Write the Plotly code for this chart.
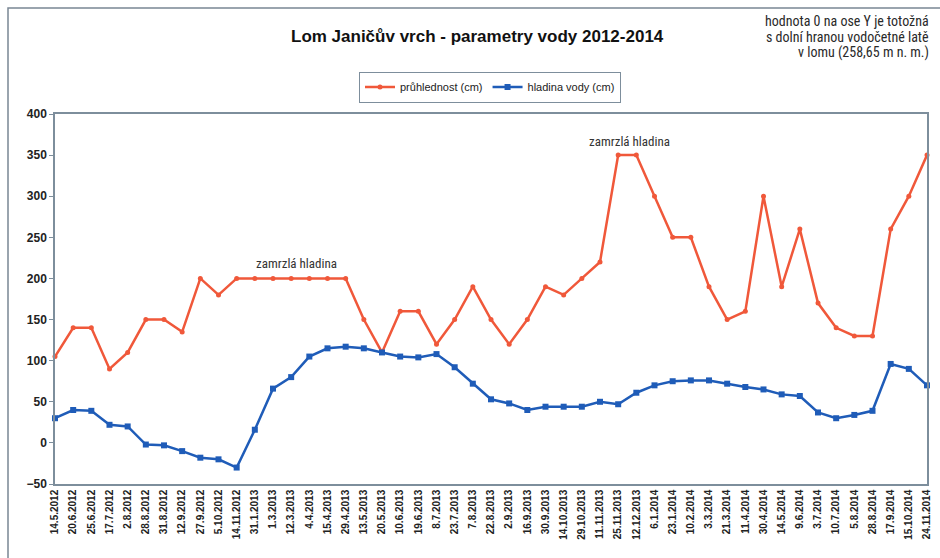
import plotly.graph_objects as go

dates = ["14.5.2012", "20.6.2012", "25.6.2012", "17.7.2012", "2.8.2012", "28.8.2012",
         "31.8.2012", "12.9.2012", "27.9.2012", "5.10.2012", "14.11.2012", "31.1.2013",
         "1.3.2013", "12.3.2013", "4.4.2013", "15.4.2013", "29.4.2013", "13.5.2013",
         "20.5.2013", "10.6.2013", "19.6.2013", "8.7.2013", "23.7.2013", "7.8.2013",
         "22.8.2013", "2.9.2013", "16.9.2013", "30.9.2013", "14.10.2013", "29.10.2013",
         "11.11.2013", "25.11.2013", "12.12.2013", "6.1.2014", "23.1.2014", "10.2.2014",
         "3.3.2014", "21.3.2014", "11.4.2014", "30.4.2014", "14.5.2014", "9.6.2014",
         "3.7.2014", "10.7.2014", "5.8.2014", "28.8.2014", "17.9.2014", "15.10.2014",
         "24.11.2014"]

pruhlednost = [105, 140, 140, 90, 110, 150, 150, 135, 200, 180, 200, 200,
               200, 200, 200, 200, 200, 150, 110, 160, 160, 120, 150, 190,
               150, 120, 150, 190, 180, 200, 220, 350, 350, 300, 250, 250,
               190, 150, 160, 300, 190, 260, 170, 140, 130, 130, 260, 300,
               350]

hladina = [30, 40, 39, 22, 20, -2, -3, -10, -18, -20, -30, 16,
           66, 80, 105, 115, 117, 115, 110, 105, 104, 108, 92, 72,
           53, 48, 40, 44, 44, 44, 50, 47, 61, 70, 75, 76,
           76, 72, 68, 65, 59, 57, 37, 30, 34, 39, 96, 90,
           70]

y_ticks = [-50, 0, 50, 100, 150, 200, 250, 300, 350, 400]

notes = [("zamrzlá hladina", 13.3, 218), ("zamrzlá hladina", 31.6, 366)]

side_note = ["hodnota 0 na ose Y je totožná",
             "s dolní hranou vodočetné latě",
             "v lomu (258,65 m n. m.)"]

RED = "#F0583A"
BLUE = "#1F5CB8"
FRAME = "#7D8E9C"
NARROW = "Liberation Sans Narrow, Roboto Condensed, DejaVu Sans Condensed, sans-serif"
SANS = "Liberation Sans, Arial, sans-serif"

ymin, ymax = y_ticks[0], y_ticks[-1]

# plot area geometry (pixels) used to place paper-relative layout items
L, R, T, B = 55, 13, 114, 74
PW, PH = 940 - L - R, 558 - T - B


def py(px):
    """convert a pixel row (from top) into paper y"""
    return 1 + (T - px) / PH


def pxx(px):
    return (px - L) / PW


fig = go.Figure()
fig.add_trace(go.Scatter(
    x=dates, y=pruhlednost, name="průhlednost (cm)", mode="lines+markers",
    line=dict(color=RED, width=2.5), marker=dict(symbol="circle", size=5, color=RED),
    cliponaxis=False))
fig.add_trace(go.Scatter(
    x=dates, y=hladina, name="hladina vody (cm)", mode="lines+markers",
    line=dict(color=BLUE, width=2.5), marker=dict(symbol="square", size=6, color=BLUE),
    cliponaxis=False))

for text, xi, yv in notes:
    fig.add_annotation(x=xi, y=yv, xref="x", yref="y", text=text, showarrow=False,
                       font=dict(family=NARROW, size=13, color="#333333"))

for i, line in enumerate(side_note):
    fig.add_annotation(
        xref="paper", yref="paper", x=pxx(931), y=py(21 + 16 * i), xanchor="right",
        yanchor="middle", showarrow=False, text=line,
        font=dict(family=NARROW, size=14, color="#2a2a2a"))

fig.add_annotation(
    xref="paper", yref="paper", x=pxx(477), y=py(37), xanchor="center", yanchor="middle",
    showarrow=False, text="<b>Lom Janičův vrch - parametry vody 2012-2014</b>",
    font=dict(family=SANS, size=17, color="#111111"))

# outer chart frame
fig.add_shape(type="rect", xref="paper", yref="paper",
              x0=pxx(8), x1=1.5, y0=-1.0, y1=py(8),
              line=dict(color="#7A8794", width=1.5), layer="below")

fig.update_layout(
    width=940, height=558,
    margin=dict(l=L, r=R, t=T, b=B, autoexpand=False),
    paper_bgcolor="white", plot_bgcolor="white",
    showlegend=True,
    legend=dict(orientation="h", x=pxx(490), xanchor="center", y=py(87), yanchor="middle",
                bgcolor="white", bordercolor=FRAME, borderwidth=1,
                font=dict(family=SANS, size=11, color="#222222"),
                itemwidth=30, tracegroupgap=0),
    xaxis=dict(type="category", range=[0, len(dates) - 1], showline=True, mirror=True,
               automargin=False,
               linecolor=FRAME, linewidth=1.5, ticks="", showgrid=False, tickangle=-90,
               tickfont=dict(family=SANS, size=10, color="#222222", weight="bold")),
    xaxis2=dict(overlaying="x", anchor="free", position=(0 - ymin) / (ymax - ymin),
                automargin=False,
                range=[0, len(dates) - 1], tickmode="linear", tick0=0, dtick=1,
                showticklabels=False, ticks="outside", ticklen=3, tickcolor=FRAME,
                showline=True, linecolor=FRAME, linewidth=1, showgrid=False, zeroline=False),
    yaxis=dict(range=[ymin, ymax], tickvals=y_ticks, showline=True, mirror=True,
               automargin=False,
               linecolor=FRAME, linewidth=1.5, ticks="outside", ticklen=4, tickcolor=FRAME,
               showgrid=False, zeroline=False,
               tickfont=dict(family=SANS, size=12, color="#222222", weight="bold")),
)

fig.write_html("out.html", config={"displayModeBar": False},
               post_script="document.body.style.margin='0';document.body.style.overflow='hidden';")
